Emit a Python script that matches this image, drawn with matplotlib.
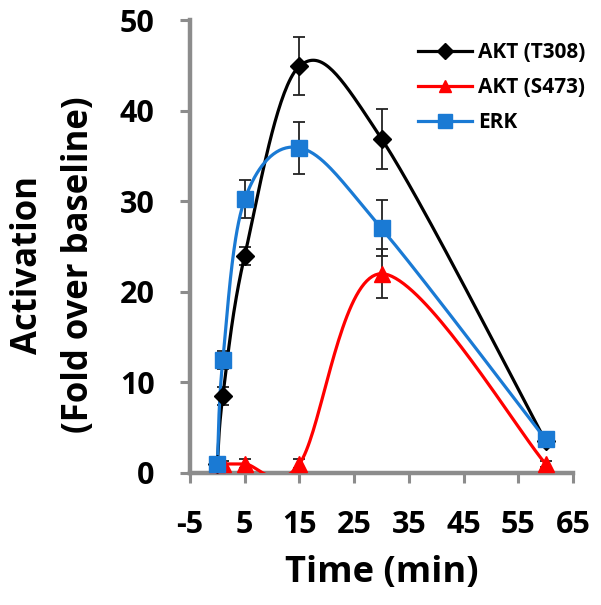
import numpy as np
import matplotlib
matplotlib.use("Agg")
import matplotlib.pyplot as plt

time = [0, 1, 5, 15, 30, 60]
akt_t308 = [1.0, 8.5, 24.0, 44.9, 36.9, 3.5]
akt_t308_err = [0.5, 1.0, 1.0, 3.2, 3.3, 0.5]
akt_s473 = [1.0, 1.0, 1.0, 1.0, 22.0, 1.0]
akt_s473_err = [0.3, 0.3, 0.5, 0.5, 2.7, 0.3]
erk = [1.0, 12.5, 30.2, 35.9, 27.0, 3.7]
erk_err = [0.5, 1.0, 2.1, 2.85, 3.1, 0.5]
x_ticks = [-5, 5, 15, 25, 35, 45, 55, 65]
y_ticks = [0, 10, 20, 30, 40, 50]

plt.rcParams['font.family'] = ['Open Sans', 'DejaVu Sans']
plt.rcParams['font.weight'] = 'bold'


def smooth(x, y, n=40):
    # Excel-like parametric Catmull-Rom smoothing
    P = np.column_stack([x, y]).astype(float)
    pts = []
    m = len(P)
    for i in range(m - 1):
        p0 = P[i - 1] if i > 0 else P[i]
        p1 = P[i]
        p2 = P[i + 1]
        p3 = P[i + 2] if i + 2 < m else P[i + 1]
        c1 = p1 + (p2 - p0) / 6.0
        c2 = p2 - (p3 - p1) / 6.0
        t = np.linspace(0, 1, n)[:, None]
        b = ((1 - t) ** 3) * p1 + 3 * ((1 - t) ** 2) * t * c1 + 3 * (1 - t) * t ** 2 * c2 + t ** 3 * p2
        pts.append(b if i == 0 else b[1:])
    B = np.vstack(pts)
    return B[:, 0], B[:, 1]


W, H = 601, 605
fig = plt.figure(figsize=(W / 100, H / 100), dpi=100)
L, R, T, B = 190, 573, 20, 473
ax = fig.add_axes([L / W, 1 - B / H, (R - L) / W, (B - T) / H])

series = [
    (akt_t308, akt_t308_err, 'black', 'D', 9, 'AKT (T308)'),
    (akt_s473, akt_s473_err, '#ff0000', '^', 11, 'AKT (S473)'),
    (erk, erk_err, '#1a7ad4', 's', 11.5, 'ERK'),
]
for vals, errs, col, mk, ms, lab in series:
    sx, sy = smooth(time, vals)
    ax.errorbar(time, vals, yerr=errs, fmt='none', ecolor='#222222', elinewidth=1.3,
                capsize=4.3, capthick=1.3, zorder=2)
    ax.plot(sx, sy, color=col, lw=2.3, zorder=3)
    ax.plot(time, vals, linestyle='none', marker=mk, color=col, ms=ms, zorder=4, clip_on=False)
    ax.plot([], [], color=col, lw=2.3, marker=mk, ms=ms * 0.85, label=lab)

ax.set_xlim(-5, 65)
ax.set_ylim(0, 50)
ax.set_xticks(x_ticks)
ax.set_yticks(y_ticks)
ax.set_xticklabels([str(v) for v in x_ticks])
ax.tick_params(axis='both', labelsize=22, width=2.2, length=7.5, color='#8c8c8c',
               direction='out')
ax.tick_params(axis='x', pad=19)
ax.tick_params(axis='y', pad=18)
for lab in ax.get_xticklabels() + ax.get_yticklabels():
    lab.set_fontweight('bold')
for s in ['top', 'right']:
    ax.spines[s].set_visible(False)
for s in ['left', 'bottom']:
    ax.spines[s].set_color('#8c8c8c')
    ax.spines[s].set_linewidth(3.2)

fig.text((L + R) / 2 / W, 1 - 573 / H, 'Time (min)', fontsize=26, fontweight='bold',
         ha='center', va='center')
ylab_center = 1 - 265 / H
fig.text(37 / W, ylab_center, 'Activation', fontsize=25, fontweight='bold', rotation=90,
         rotation_mode='anchor', ha='center', va='baseline')
fig.text(88 / W, ylab_center, '(Fold over baseline)', fontsize=25, fontweight='bold',
         rotation=90, rotation_mode='anchor', ha='center', va='baseline')

leg = ax.legend(loc='upper left', bbox_to_anchor=((418 - L) / (R - L), 1 - (42 - T) / (B - T)),
                frameon=False, fontsize=15, handlelength=2.6, handletextpad=0.3,
                labelspacing=0.68, borderpad=0, borderaxespad=0)
for t in leg.get_texts():
    t.set_fontweight('bold')

fig.savefig('out.png', dpi=100)
